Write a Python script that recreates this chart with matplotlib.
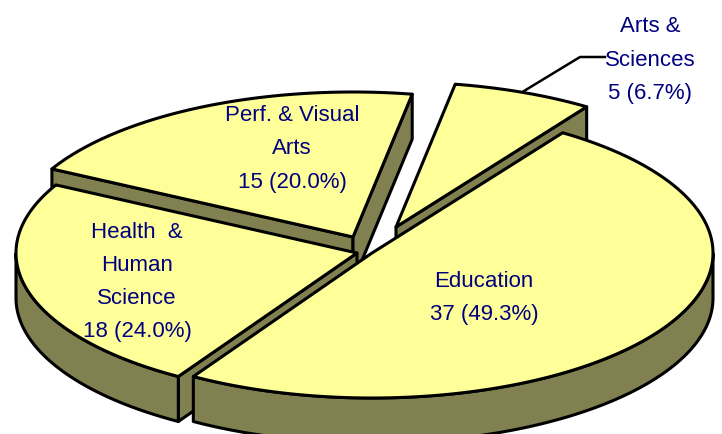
import numpy as np
from matplotlib import pyplot as plt
from matplotlib.patches import Polygon

names = ['Arts &\nSciences', 'Education', 'Health  &\nHuman\nScience', 'Perf. & Visual\nArts']
values = [5, 37, 18, 15]

# apex of each exploded slice, in pixels
apex_x = [396, 372, 357, 353]
apex_y = [228, 254, 254, 238]
label_x = [650, 484, 137, 292]
label_y = [60, 298, 282, 149]

start_angle = 80  # top edge of first slice, going clockwise
rx = 341
ry = 145
depth = 45
top_color = '#FFFF99'
side_color = '#808050'
text_color = '#000080'

plt.rcParams['font.family'] = ['Liberation Sans', 'DejaVu Sans']

fig = plt.figure(figsize=(7.22, 4.35), dpi=100)
ax = fig.add_axes([0, 0, 1, 1])
ax.set_xlim(0, 722)
ax.set_ylim(435, 0)
ax.axis('off')

total = sum(values)
sweeps = [v / total * 360 for v in values]
starts = start_angle - np.concatenate([[0], np.cumsum(sweeps)[:-1]])


def draw_slice(cx, cy, a0, sweep, z):
    t = np.radians(np.linspace(a0, a0 - sweep, 200))
    x = cx + rx * np.cos(t)
    y = cy - ry * np.sin(t)
    edge = dict(edgecolor='black', linewidth=2.2, joinstyle='round', zorder=z)
    # only the radial walls that face the viewer
    show = [np.cos(t[0]) < 0, np.cos(t[-1]) > 0]
    for i, vis in zip((0, -1), show):
        if vis:
            wall = [[cx, cy], [x[i], y[i]], [x[i], y[i] + depth], [cx, cy + depth]]
            ax.add_patch(Polygon(wall, facecolor=side_color, **edge))
    front = np.sin(t) <= 0.0
    if front.any():
        fx = x[front]
        fy = y[front]
        outer = np.column_stack([np.r_[fx, fx[::-1]], np.r_[fy, fy[::-1] + depth]])
        ax.add_patch(Polygon(outer, facecolor=side_color, **edge))
    top = np.column_stack([np.r_[cx, x], np.r_[cy, y]])
    ax.add_patch(Polygon(top, facecolor=top_color, **edge))


# leader line sits behind the slice
ax.plot([524, 580, 605], [92, 58, 58], color='black', lw=1.8, zorder=0)

# back to front
for z, i in enumerate([3, 0, 2, 1]):
    draw_slice(apex_x[i], apex_y[i], starts[i], sweeps[i], z + 1)

for i in range(len(values)):
    label = f'{names[i]}\n{values[i]} ({values[i] / total:.1%})'
    ax.text(label_x[i], label_y[i], label, ha='center', va='center', color=text_color,
            fontsize=16, linespacing=1.76, zorder=10)

fig.savefig('out.png', dpi=100)
